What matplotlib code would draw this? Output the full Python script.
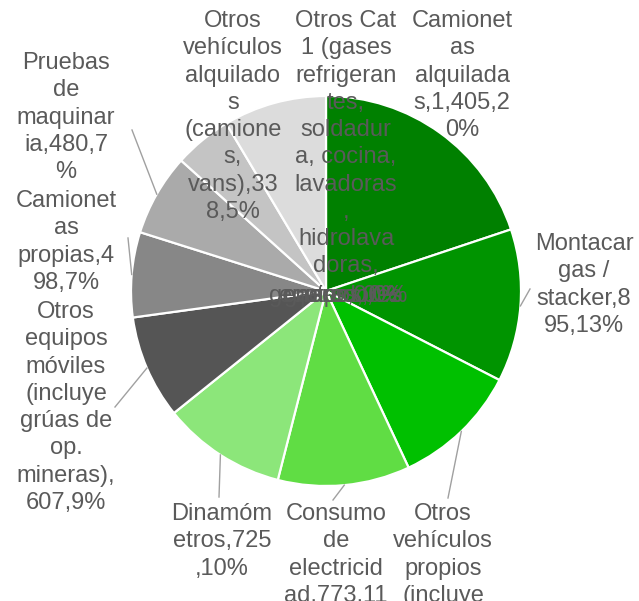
import numpy as np
import matplotlib
matplotlib.use("Agg")
import matplotlib.pyplot as plt

# slice data (clockwise from 12 o'clock)
categories = [
    "Camionetas alquiladas",
    "Montacargas / stacker",
    "Otros vehículos propios (incluye ...)",
    "Consumo de electricidad",
    "Dinamómetros",
    "Otros equipos móviles (incluye grúas de op. mineras)",
    "Camionetas propias",
    "Pruebas de maquinaria",
    "Otros vehículos alquilados (camiones, vans)",
    "Otros Cat 1 (gases refrigerantes, soldadura, cocina, lavadoras, hidrolavadoras, ...)",
]
values = [1405, 895, 741, 773, 725, 607, 498, 480, 338, 604]

# label texts, wrapped the same way the original chart wraps them
label_texts = [
    "Camionet\nas\nalquilada\ns,1,405,2\n0%",
    "Montacar\ngas /\nstacker,8\n95,13%",
    "Otros\nvehículos\npropios\n(incluye\n...),741,1\n1%",
    "Consumo\nde\nelectricid\nad,773,11\n%",
    "Dinamóm\netros,725\n,10%",
    "Otros\nequipos\nmóviles\n(incluye\ngrúas de\nop.\nmineras),\n607,9%",
    "Camionet\nas\npropias,4\n98,7%",
    "Pruebas\nde\nmaquinar\nia,480,7\n%",
    "Otros\nvehículos\nalquilado\ns\n(camione\ns,\nvans),33\n8,5%",
    "Otros Cat\n1 (gases\nrefrigeran\ntes,\nsoldadur\na, cocina,\nlavadoras\n,\nhidrolava\ndoras,",
]
# labels of the tiny slices piled up at the centre
piled_labels = ["generadores", "equipos,0%", "gases,0,0%", "otros,0%"]

colors = ["#008000", "#009400", "#00c000", "#60dd44", "#8ce67a",
          "#555555", "#878787", "#aaaaaa", "#c4c4c4", "#dcdcdc"]

# layout (pixels): label anchor (x centre, y top) and leader end point
label_pos = [(462, 10), (584, 233), (443, 503), (336, 503), (222, 503),
             (66, 301), (66, 190), (66, 52), (233, 10), (346, 10)]
leader_end = [None, (530, 289), (448, 498), (333, 500), (219, 497),
              (115, 407), (128, 238), (132, 130), None, None]

W, H = 639, 601
cx, cy, R = 326, 291, 195
text_color = "#5a5a5a"

fig = plt.figure(figsize=(W / 100, H / 100), dpi=100)
ax = fig.add_axes([0, 0, 1, 1])

# y axis is inverted, so counterclock=True draws clockwise on screen
wedges, _ = ax.pie(values, colors=colors, startangle=-90, counterclock=True,
                   center=(cx, cy), radius=R,
                   wedgeprops=dict(edgecolor="white", linewidth=1.6))
ax.set_xlim(0, W)
ax.set_ylim(H, 0)
ax.set_aspect("equal")
ax.axis("off")

for w, end in zip(wedges, leader_end):
    if end is None:
        continue
    mid = np.deg2rad((w.theta1 + w.theta2) / 2)
    x0 = cx + R * np.cos(mid)
    y0 = cy + R * np.sin(mid)
    ax.plot([x0, end[0]], [y0, end[1]], color="#a0a0a0", lw=1, zorder=1)

for txt, (x, y) in zip(label_texts, label_pos):
    ax.text(x, y, txt, ha="center", va="top", multialignment="center",
            fontsize=17, family="Liberation Sans", color=text_color,
            linespacing=1.31, zorder=5)

for i, txt in enumerate(piled_labels):
    ax.text(343 + (i - 1.5) * 5, 296, txt, ha="center", va="center",
            fontsize=17, family="Liberation Sans", color=text_color, zorder=5)

fig.savefig("out.png", dpi=100)
